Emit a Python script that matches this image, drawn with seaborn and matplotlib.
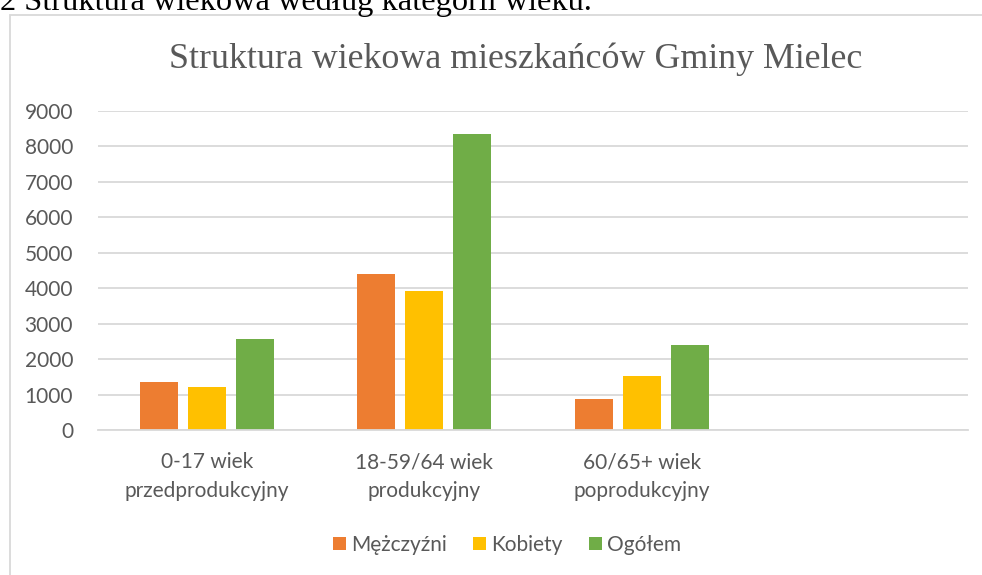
import matplotlib
matplotlib.use("Agg")
import matplotlib.pyplot as plt
import seaborn as sns
import pandas as pd
from matplotlib.patches import Rectangle

categories = ["0-17 wiek\nprzedprodukcyjny", "18-59/64 wiek\nprodukcyjny", "60/65+ wiek\npoprodukcyjny"]
series = ["Mężczyźni", "Kobiety", "Ogółem"]
men = [1340, 4400, 870]
women = [1220, 3920, 1510]
total = [2570, 8340, 2385]
colors = ["#ED7D31", "#FFC000", "#70AD47"]
yticks = [0, 1000, 2000, 3000, 4000, 5000, 6000, 7000, 8000, 9000]

rows = []
for name, vals in zip(series, [men, women, total]):
    for c, v in zip(categories, vals):
        rows.append({"kategoria": c, "seria": name, "wartosc": v})
df = pd.DataFrame(rows)

sns.set_theme(style="white")
plt.rcParams["font.family"] = ["Lato", "DejaVu Sans"]
gray = "#595959"
grid = "#D9D9D9"

fig = plt.figure(figsize=(9.82, 5.75), dpi=100)
ax = fig.add_axes([98 / 982, 1 - 430 / 575, 870 / 982, (430 - 110.7) / 575])

sns.barplot(data=df, x="kategoria", y="wartosc", hue="seria", order=categories,
            hue_order=series, palette=colors, saturation=1, width=0.662, gap=0.2,
            linewidth=0, ax=ax)

ax.set_xlim(-0.5, 3.5)
ax.set_ylim(0, 9000)
ax.set_yticks(yticks)
ax.set_yticklabels([str(t) for t in yticks], fontsize=15, color=gray)
ax.tick_params(axis="y", length=0, pad=18)
ax.tick_params(axis="x", length=0, pad=16, labelsize=15, labelcolor=gray)
for lab in ax.get_xticklabels():
    lab.set_linespacing(1.55)
ax.set_xlabel("")
ax.set_ylabel("")
ax.yaxis.grid(True, color=grid, linewidth=1.3)
ax.set_axisbelow(True)
for s in ["top", "right", "left"]:
    ax.spines[s].set_visible(False)
ax.spines["bottom"].set_color(grid)
ax.spines["bottom"].set_linewidth(1.3)

ax.legend_.remove()
handles = [Rectangle((0, 0), 1, 1, facecolor=c, edgecolor="none") for c in colors]
fig.legend(handles, series, loc="center", bbox_to_anchor=(507 / 982, 1 - 545 / 575),
           ncol=3, frameon=False, fontsize=15, handlelength=0.62, handleheight=0.62,
           handletextpad=0.25, columnspacing=1.25, labelcolor=gray)

fig.text(516 / 982, 1 - 68 / 575, "Struktura wiekowa mieszkańców Gminy Mielec",
         ha="center", va="baseline", fontsize=25.8, color=gray, family="Liberation Serif")
fig.text(0, 1 - 10 / 575, "2 Struktura wiekowa według kategorii wieku.",
         ha="left", va="baseline", fontsize=23.3, color="black", family="Liberation Serif")

fig.patches.append(Rectangle((9.5 / 982, -0.1), 1.2, 1 - 14.5 / 575 + 0.1,
                             transform=fig.transFigure, facecolor="none",
                             edgecolor=grid, linewidth=1.3, zorder=0))

fig.savefig("out.png", dpi=100)
